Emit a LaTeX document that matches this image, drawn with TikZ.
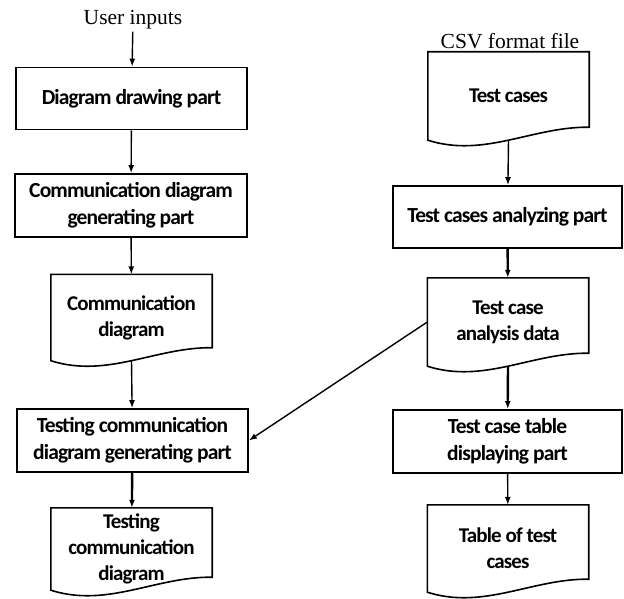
\documentclass[tikz,border=0pt]{standalone}
\usepackage{fontspec}
\setmainfont{Liberation Serif}
\newfontfamily\partfont[LetterSpace=-4.0]{Carlito}
\usepackage{tikz}
\usetikzlibrary{positioning,calc,arrows.meta}

% outline of a document symbol (wavy bottom edge)
\newcommand{\docframe}[1]{%
  \draw[frame] (#1.south west) -- (#1.north west) -- (#1.north east) -- ([yshift=13pt]#1.south east)
    .. controls ($(#1.south west)!0.65!(#1.south east)+(0,-13.7)$) and ($(#1.south west)!0.35!(#1.south east)+(0,18)$) .. (#1.south west) -- cycle;}

\begin{document}
\begin{tikzpicture}[x=1pt, y=-1pt]
				\tikzset{
					part/.style={rectangle, draw=black, line width=1.8pt, minimum width=231pt, minimum height=62pt, inner sep=0pt, align=center, font=\partfont\bfseries\fontsize{21.5}{27}\selectfont},
					doc/.style={rectangle, minimum width=161pt, minimum height=86pt, inner sep=0pt, align=center, font=\partfont\bfseries\fontsize{21}{26}\selectfont},
					frame/.style={draw=black, line width=1.6pt},
					label/.style={inner sep=2pt, font=\fontsize{21.5}{24}\selectfont},
					flow/.style={draw=black, line width=1.4pt, -{Latex[length=8pt,width=6pt]}},
					heavy/.style={flow, line width=2.4pt}
				}
				\useasboundingbox (0,0) rectangle (624,599);
				
				% ---- Left column ----
				\node[label] (user) at (133,20) {User inputs};
				\node[part] (draw) at (131.5,98.5) {Diagram drawing part};
				\node[part, minimum width=232pt, minimum height=63pt] (gen) at (131,205.5) {Communication diagram\\generating part};
				\node[doc] (comm) at (131.5,317.5) {Communication\\diagram};
				\node[part, minimum height=63pt] (tgen) at (132.5,440.5) {Testing communication\\diagram generating part};
				\node[doc, minimum height=82pt] (tcomm) at (131.5,549) {Testing\\communication\\diagram};
				\docframe{comm}
				\docframe{tcomm}
				
				\draw[flow] (user) -- (draw);
				\draw[flow] (draw) -- (gen);
				\draw[flow] (gen) -- (comm);
				\draw[flow] (comm.south) -- (tgen);
				\draw[heavy] (tgen) -- (tcomm);
				
				% ---- Right column ----
				\node[label] (csv) at (510,41) {CSV format file};
				\node[doc, minimum height=88pt] (cases) at (508.5,96) {Test cases};
				\node[part, minimum width=229pt] (analyze) at (507.5,217) {Test cases analyzing part};
				\node[doc, minimum height=88pt] (data) at (508,322) {Test case\\analysis data};
				\node[part, minimum width=229pt, minimum height=63pt] (display) at (507.5,441.5) {Test case table\\displaying part};
				\node[doc, minimum height=87pt] (table) at (508,548.5) {Table of test\\cases};
				\docframe{cases}
				\docframe{data}
				\docframe{table}
				
				\draw[flow] (cases.south) -- (analyze);
				\draw[heavy] (analyze) -- (data);
				\draw[heavy] (data.south) -- (display);
				\draw[flow] (display) -- (table);
				
				% ---- Analysis data into the testing part ----
				\draw[flow] (data.west) -- (tgen.east);
			\end{tikzpicture}
\end{document}
